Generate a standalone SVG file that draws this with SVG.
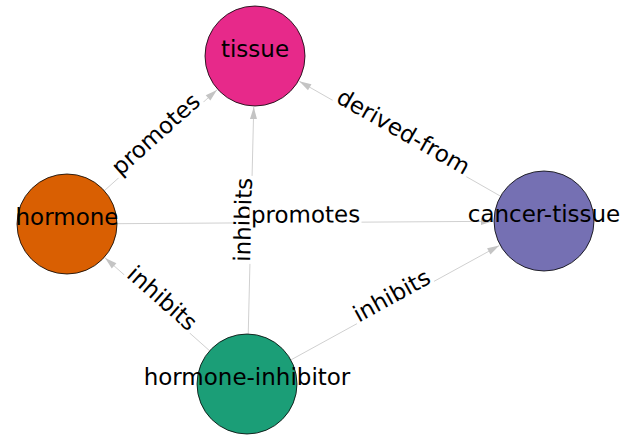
<svg xmlns="http://www.w3.org/2000/svg" width="631" height="438" viewBox="0 0 631 438">
<style>
  .edge { stroke: #d0d0d0; stroke-width: 1; fill: none; marker-end: url(#arr); }
  .node { stroke: #000; stroke-width: 0.8; }
  .lbl { font-family: "DejaVu Sans", sans-serif; font-size: 23px; fill: #000; text-anchor: middle; }
  .bg { fill: #fff; stroke: none; }
</style>
<defs>
  <marker id="arr" markerUnits="userSpaceOnUse" markerWidth="12" markerHeight="8" viewBox="0 -4 12 8" refX="12" refY="0" orient="auto" overflow="visible">
    <path d="M0,-3.5 L12,0 L0,3.5 z" fill="#c4c4c4"/>
  </marker>
</defs>
<rect width="631" height="438" fill="#fff"/>
<g id="connectors">
  <line class="edge" x1="104.3" y1="190.7" x2="216.97" y2="89.98"/>
  <line class="edge" x1="500.58" y1="196.21" x2="299.29" y2="81.29"/>
  <line class="edge" x1="248.22" y1="334.02" x2="253.76" y2="106.98"/>
  <line class="edge" x1="117" y1="223.69" x2="493" y2="221.32"/>
  <line class="edge" x1="209.63" y1="350.78" x2="105.12" y2="257.88"/>
  <line class="edge" x1="290.83" y1="359.94" x2="499.29" y2="245.54"/>
  <g id="edge-labels">
    <g transform="translate(161,140) rotate(-41.8)">
      <rect class="bg" x="-57" y="-17" width="114" height="23"/>
      <text class="lbl" x="0" y="0">promotes</text>
    </g>
    <g transform="translate(399.5,138.5) rotate(29.7)">
      <rect class="bg" x="-77" y="-17" width="154" height="23"/>
      <text class="lbl" x="0" y="0">derived-from</text>
    </g>
    <g transform="translate(251,220) rotate(-88.6)">
      <rect class="bg" x="-44" y="-17" width="88" height="22"/>
      <text class="lbl" x="0" y="0">inhibits</text>
    </g>
    <g transform="translate(305.5,222.5) rotate(-0.36)">
      <rect class="bg" x="-56" y="-17" width="112" height="23"/>
      <text class="lbl" x="0" y="0">promotes</text>
    </g>
    <g transform="translate(157,304) rotate(41.6)">
      <rect class="bg" x="-44" y="-17" width="88" height="22"/>
      <text class="lbl" x="0" y="0">inhibits</text>
    </g>
    <g transform="translate(395.5,302.5) rotate(-28.8)">
      <rect class="bg" x="-44" y="-17" width="88" height="22"/>
      <text class="lbl" x="0" y="0">inhibits</text>
    </g>
  </g>
</g>
<g id="tissue">
  <circle class="node" cx="255" cy="56" r="50" fill="#E7298A"/>
  <text class="lbl" x="255" y="57">tissue</text>
</g>
<g id="hormone">
  <circle class="node" cx="67" cy="224" r="50" fill="#D95F02"/>
  <text class="lbl" x="67" y="225">hormone</text>
</g>
<g id="cancer-tissue">
  <circle class="node" cx="544" cy="221" r="50" fill="#7570B3"/>
  <text class="lbl" x="544" y="222">cancer-tissue</text>
</g>
<g id="hormone-inhibitor">
  <circle class="node" cx="247" cy="384" r="50" fill="#1B9E77"/>
  <text class="lbl" x="247" y="385">hormone-inhibitor</text>
</g>
</svg>
